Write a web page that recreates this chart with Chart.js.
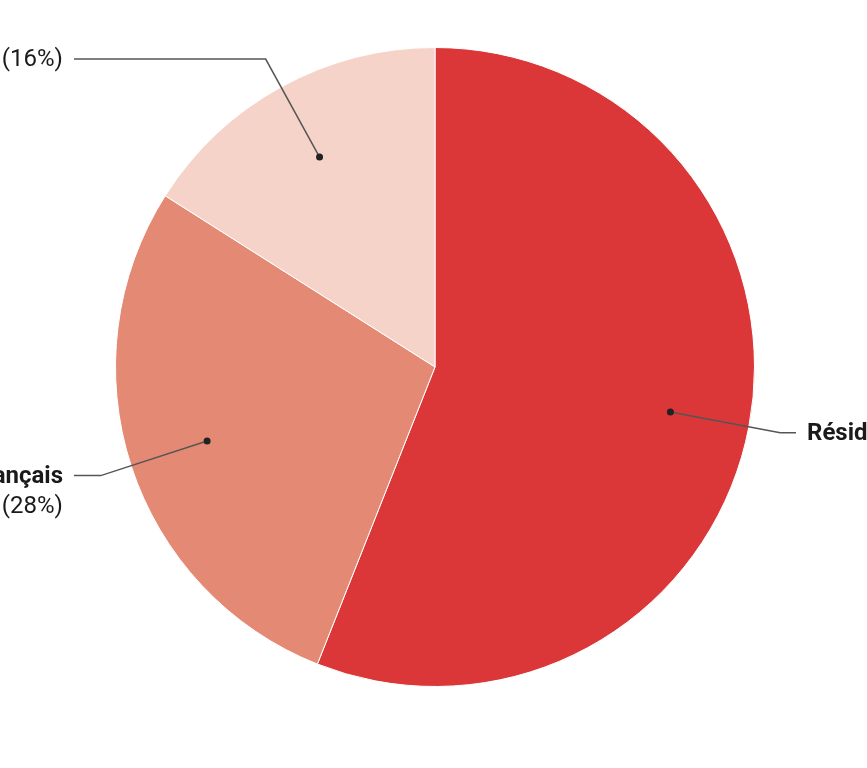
<!DOCTYPE html>
<html>
<head>
<meta charset="utf-8">
<script src="https://cdn.jsdelivr.net/npm/chart.js@4/dist/chart.umd.min.js"></script>
<style>
  html, body { margin: 0; padding: 0; background: #fff; }
  #wrap { width: 867px; height: 768px; }
</style>
</head>
<body>
<div id="wrap"><canvas id="chart" width="867" height="768"></canvas></div>
<script>
const categories = ['Résidents', 'Touristes français', 'Touristes étrangers']
const values = [56, 28, 16]
const palette = ['#db3739', '#e48973', '#f6d3c9']

// which labels are split over two lines (name / percent)
const twoLines = [false, true, false]

const calloutPlugin = {
  id: 'callouts',
  afterDraw(chart) {
    const ctx = chart.ctx
    const meta = chart.getDatasetMeta(0)
    ctx.save()
    meta.data.forEach((arc, i) => {
      const { x: cx, y: cy, outerRadius: r, startAngle, endAngle } = arc.getProps(['x', 'y', 'outerRadius', 'startAngle', 'endAngle'], true)
      const mid = (startAngle + endAngle) / 2
      const cos = Math.cos(mid), sin = Math.sin(mid)
      const dx = cx + cos * r * 0.75, dy = cy + sin * r * 0.75
      const ex = cx + cos * r * 1.1, ey = cy + sin * r * 1.1
      const right = cos >= 0
      const hx = right ? cx + r * 1.13 : cx - r * 1.13

      ctx.strokeStyle = '#555'
      ctx.lineWidth = 1.5
      ctx.beginPath()
      ctx.moveTo(dx, dy)
      ctx.lineTo(ex, ey)
      ctx.lineTo(hx, ey)
      ctx.stroke()

      ctx.fillStyle = '#222'
      ctx.beginPath()
      ctx.arc(dx, dy, 3.5, 0, Math.PI * 2)
      ctx.fill()

      const name = categories[i]
      const pct = '(' + values[i] + '%)'
      const bold = 'bold 24px Roboto'
      const normal = '24px Roboto'
      const tx = right ? hx + 11 : hx - 11
      ctx.textBaseline = 'middle'
      ctx.fillStyle = '#1a1a1a'
      if (twoLines[i]) {
        ctx.textAlign = right ? 'left' : 'right'
        ctx.font = bold
        ctx.fillText(name, tx, ey + 1)
        ctx.font = normal
        ctx.fillText(pct, tx, ey + 31)
      } else if (right) {
        ctx.textAlign = 'left'
        ctx.font = bold
        ctx.fillText(name, tx, ey + 1)
        const w = ctx.measureText(name + ' ').width
        ctx.font = normal
        ctx.fillText(pct, tx + w, ey + 1)
      } else {
        ctx.textAlign = 'right'
        ctx.font = normal
        ctx.fillText(pct, tx, ey + 1)
        const w = ctx.measureText(' ' + pct).width
        ctx.font = bold
        ctx.fillText(name, tx - w, ey + 1)
      }
    })
    ctx.restore()
  }
}

new Chart(document.getElementById('chart'), {
  type: 'pie',
  data: {
    labels: categories,
    datasets: [{
      data: values,
      backgroundColor: palette,
      borderColor: '#ffffff',
      borderWidth: 1
    }]
  },
  options: {
    responsive: false,
    animation: false,
    layout: { padding: { top: 47, bottom: 81, left: 115, right: 112 } },
    plugins: {
      legend: { display: false },
      tooltip: { enabled: false }
    }
  },
  plugins: [calloutPlugin]
})
</script>
</body>
</html>
